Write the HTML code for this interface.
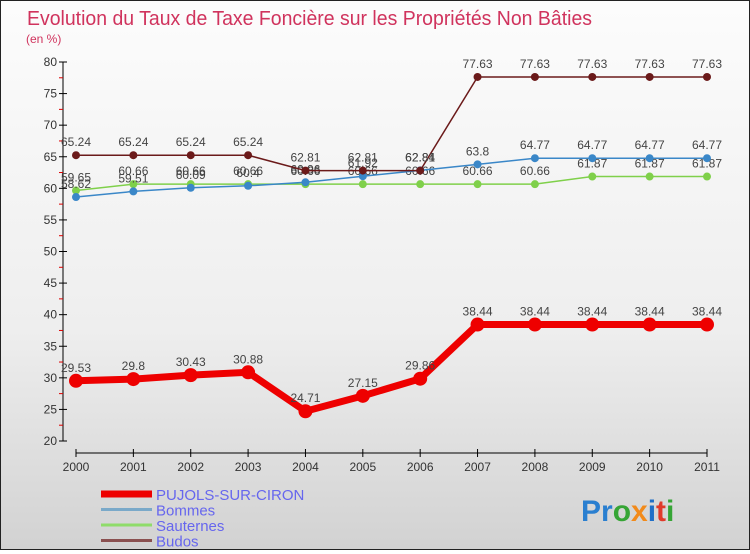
<!DOCTYPE html>
<html><head><meta charset="utf-8"><style>
body{margin:0;width:750px;height:550px;overflow:hidden;font-family:"Liberation Sans",sans-serif}
#wrap{position:relative;width:748px;height:548px;border:1px solid #222;background:linear-gradient(#fcfcfc 0%,#eeeeee 60%,#d2d2d2 100%)}
</style></head><body>
<div id="wrap">
<svg id="chart" width="748" height="548" xmlns="http://www.w3.org/2000/svg">
<text x="26" y="24" font-size="20" fill="#d0335d" textLength="565" lengthAdjust="spacingAndGlyphs">Evolution du Taux de Taxe Foncière sur les Propriétés Non Bâties</text>
<text x="25" y="42" font-size="12" fill="#d0335d">(en %)</text>
<g id="axes"></g>
<g id="series"></g>
<g id="legend"></g>
<text x="580" y="520" font-size="30" font-weight="bold"><tspan fill="#2a7fd0">Pr</tspan><tspan fill="#36a535">o</tspan><tspan fill="#f28a1a">x</tspan><tspan fill="#1f6fc8">i</tspan><tspan fill="#e03a2a">t</tspan><tspan fill="#36a535">i</tspan></text>
</svg>
</div>
<script>
const years=[2000,2001,2002,2003,2004,2005,2006,2007,2008,2009,2010,2011];
const yTicks=[20,25,30,35,40,45,50,55,60,65,70,75,80];
const pujols=[29.53,29.8,30.43,30.88,24.71,27.15,29.86,38.44,38.44,38.44,38.44,38.44];
const bommes=[58.62,59.51,60.09,60.4,60.96,61.92,62.84,63.8,64.77,64.77,64.77,64.77];
const sauternes=[59.65,60.66,60.66,60.66,60.66,60.66,60.66,60.66,60.66,61.87,61.87,61.87];
const budos=[65.24,65.24,65.24,65.24,62.81,62.81,62.81,77.63,77.63,77.63,77.63,77.63];
const NS="http://www.w3.org/2000/svg";
const xS=i=>75+i*(631/11);
const yS=v=>440-(v-20)*(379/60);
function mk(tag,attrs,parent,txt){const e=document.createElementNS(NS,tag);for(const k in attrs)e.setAttribute(k,attrs[k]);if(txt!==undefined)e.textContent=txt;parent.appendChild(e);return e;}
const ax=document.getElementById('axes');
let l=mk('line',{x1:62,y1:yS(80),x2:62,y2:yS(20),stroke:'#000'},ax);


yTicks.forEach(t=>{
 const y=yS(t);
 let tk=mk('line',{x1:58,y1:y,x2:66,y2:y,stroke:'#000'},ax);
 
 
 let tx=mk('text',{x:56,y:y+4,'font-size':12,fill:'#333','text-anchor':'end'},ax,String(t));
 
 
 if(t<80){let m=mk('line',{x1:58,y1:y-15.8,x2:62,y2:y-15.8,stroke:'#d00'},ax);
 
 }
});
l=mk('line',{x1:75,y1:452,x2:706,y2:452,stroke:'#000'},ax);


years.forEach((yr,i)=>{
 let tk=mk('line',{x1:xS(i),y1:448,x2:xS(i),y2:456,stroke:'#000'},ax);
 
 
 let tx=mk('text',{x:xS(i),y:470,'font-size':12,fill:'#333','text-anchor':'middle'},ax,String(yr));
 
 
});
const sg=document.getElementById('series');
function series(data,color,w,r,name,fs){
 const g=mk('g',{},sg);
 
 
 const p=mk('polyline',{points:data.map((v,i)=>xS(i)+','+yS(v)).join(' '),fill:'none',stroke:color,'stroke-width':w},g);
 
 
 data.forEach((v,i)=>{
  const c=mk('circle',{cx:xS(i),cy:yS(v),r:r,fill:color},g);
  
  
  const t=mk('text',{x:xS(i),y:yS(v)-9,'font-size':fs,fill:'#444','text-anchor':'middle'},g,String(v));
  
  
 });
}
series(sauternes,'#7fd04a',1.5,4,'sauternes',12);
series(bommes,'#3a87c8',1.5,4,'bommes',12);
series(budos,'#6b1a1a',1.5,4,'budos',12);
series(pujols,'#ee0000',7,7,'pujols',12);
const lg=document.getElementById('legend');
const items=[['PUJOLS-SUR-CIRON','#ee0000',7],['Bommes','#7aa9c9',3],['Sauternes','#8fdc6a',3],['Budos','#8a5050',3]];
items.forEach((it,i)=>{
 const y=493+i*15.5;
 const g=mk('g',{},lg);
 
 
 let s=mk('line',{x1:100,y1:y,x2:151,y2:y,stroke:it[1],'stroke-width':it[2]},g);
 
 
 let t=mk('text',{x:155,y:y+6,'font-size':15,fill:'#6666ee'},g,it[0]);
 
 
});
</script>
</body></html>
